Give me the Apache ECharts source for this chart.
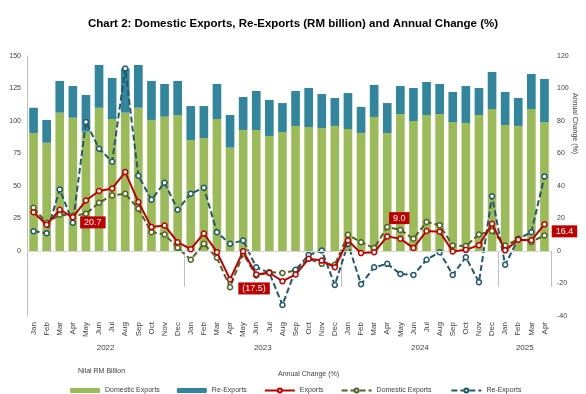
<!DOCTYPE html>
<html>
<head>
<meta charset="utf-8">
<script src="https://cdn.jsdelivr.net/npm/echarts@6/dist/echarts.min.js"></script>
<style>
html,body{margin:0;padding:0;background:#fff;}
#chart{width:586px;height:394px;}
</style>
</head>
<body>
<div id="chart"></div>
<script>
// ---- Data ----
var months = ['Jan','Feb','Mar','Apr','May','Jun','Jul','Aug','Sep','Oct','Nov','Dec',
              'Jan','Feb','Mar','Apr','May','Jun','Jul','Aug','Sep','Oct','Nov','Dec',
              'Jan','Feb','Mar','Apr','May','Jun','Jul','Aug','Sep','Oct','Nov','Dec',
              'Jan','Feb','Mar','Apr'];
var years = ['2022','2023','2024','2025'];
var monthsPerYear = [12, 12, 12, 4];

// RM billion
var domesticExports = [90.8,83.3,106.4,102.6,91.8,110.2,101.5,106.4,110.2,100.8,103.3,104.6,
                       85.4,86.9,101.5,79.5,93.1,93.1,88.5,91.5,96.2,95.4,94.6,96.2,
                       93.8,90.8,103.1,90.8,105.4,100.0,104.6,105.4,99.2,98.5,104.6,109.2,
                       96.9,96.2,109.2,99.2];
var reExports = [19.4,17.5,24.4,24.3,28.2,32.9,31.6,34.0,32.9,30.0,25.2,26.2,
                 26.1,24.6,27.0,25.1,25.4,30.0,27.7,22.3,26.9,30.0,26.2,21.5,
                 27.7,20.0,24.6,23.0,21.5,25.4,25.4,23.1,23.1,28.4,20.8,28.5,
                 25.4,21.5,27.0,33.1];

// Annual change (%)
var exportsChg = [23.9,16.2,25.4,20.7,31.1,36.9,38.5,48.6,30.1,14.7,15.7,5.4,
                  1.1,10.8,-0.7,-17.5,-0.1,-14.4,-13.4,-18.6,-14.5,-4.8,-5.9,-10.0,
                  6.5,-1.3,-0.8,9.0,7.5,1.9,12.3,11.9,-0.3,0.7,3.6,16.8,
                  0.4,6.9,6.6,16.4];
var domesticChg = [26.6,17.4,22.3,21.7,22.9,29.7,34.2,35.2,26.0,11.6,10.2,2.0,
                   -5.4,4.4,-4.2,-22.3,-1.7,-15.1,-13.0,-13.5,-12.0,-4.8,-7.9,-8.5,
                   10.0,5.4,1.8,14.7,13.0,7.5,17.8,15.9,3.4,3.1,10.2,12.3,
                   3.4,7.2,5.6,9.6];
var reExportsChg = [12.2,11.0,37.9,17.4,79.4,63.0,55.0,112.3,46.3,31.6,42.0,25.4,
                    35.3,39.0,11.6,4.4,6.5,-10.0,-13.5,-33.2,-11.6,-2.4,0.3,-20.9,
                    4.4,-20.5,-10.0,-7.9,-14.1,-14.7,-5.4,-0.7,-14.7,-3.8,-19.2,33.7,
                    -8.5,7.5,11.6,45.9];

var labelledIdx = [3, 15, 27, 39];

var leftTicks = [0, 25, 50, 75, 100, 125, 150];
var rightTicks = [-40, -20, 0, 20, 40, 60, 80, 100, 120];

// ---- Build ----
var FONT = "'Liberation Sans', Arial, sans-serif";
var yearCenters = [], yearBounds = [0];
var acc = 0;
monthsPerYear.forEach(function (n) { yearCenters.push(acc + n / 2); acc += n; yearBounds.push(acc); });

var labelOffsets = {3: ['right', [0, 5]], 15: ['right', [1, 9]], 27: ['top', [12, -5]], 39: ['right', [0, 7]]};
function fmtPct(v) { return v < 0 ? '(' + Math.abs(v).toFixed(1) + ')' : v.toFixed(1); }
var exportsData = exportsChg.map(function (v, i) {
  if (labelledIdx.indexOf(i) < 0) return v;
  var lo = labelOffsets[i];
  return {
    value: v,
    label: {
      show: true, position: lo[0], offset: lo[1], distance: 4,
      formatter: function (p) { return fmtPct(p.value); },
      backgroundColor: '#C00000', color: '#fff', fontSize: 9, fontFamily: FONT,
      padding: [2, 4, 1, 4]
    }
  };
});

function lineSeries(name, data, color, dashed, z) {
  return {
    name: name, type: 'line', yAxisIndex: 1, data: data, z: z,
    symbol: 'circle', symbolSize: 5, showSymbol: true,
    lineStyle: { color: color, width: 2, type: dashed ? [6, 3] : 'solid' },
    itemStyle: { color: '#fff', borderColor: color, borderWidth: 1.5 },
    emphasis: { disabled: true }
  };
}

var chart = echarts.init(document.getElementById('chart'), null, { renderer: 'canvas' });
chart.setOption({
  animation: false,
  textStyle: { fontFamily: FONT },
  title: {
    text: 'Chart 2: Domestic Exports, Re-Exports (RM billion) and Annual Change (%)',
    left: 'center', top: 13,
    textStyle: { fontSize: 11.5, fontWeight: 'bold', color: '#000', fontFamily: FONT }
  },
  grid: { left: 27, right: 35, top: 56, bottom: 78, containLabel: false, outerBoundsMode: 'none' },
  legend: {
    top: 382, left: 65, itemGap: 17, itemWidth: 30, itemHeight: 5,
    textStyle: { fontSize: 7, color: '#404040', fontFamily: FONT },
    data: ['Domestic Exports', 'Re-Exports', 'Exports', 'Domestic Exports ', 'Re-Exports ']
  },
  graphic: [
    { type: 'text', left: 78, top: 368, style: { text: 'Nilai RM Billion', fontSize: 7, fill: '#404040', fontFamily: FONT } },
    { type: 'text', left: 278, top: 371, style: { text: 'Annual Change (%)', fontSize: 7, fill: '#404040', fontFamily: FONT } },
    { type: 'text', x: 578, y: 93, rotation: -Math.PI / 2, style: { text: 'Annual Change (%)', fontSize: 7, fill: '#404040', fontFamily: FONT } }
  ],
  xAxis: [
    {
      type: 'category', data: months, position: 'bottom', boundaryGap: true,
      axisLine: { show: false }, axisTick: { show: false },
      axisLabel: { rotate: 90, interval: 0, fontSize: 8, color: '#404040', margin: 6 }
    },
    {
      type: 'value', min: 0, max: months.length, position: 'bottom', gridIndex: 0,
      axisLine: { show: false }, splitLine: { show: false },
      axisTick: { show: true, customValues: yearBounds, length: 36, lineStyle: { color: '#BFBFBF' } },
      axisLabel: {
        customValues: yearCenters, fontSize: 8, color: '#404040', margin: 28,
        formatter: function (v) { return years[yearCenters.indexOf(v)] || ''; }
      }
    }
  ],
  yAxis: [
    {
      type: 'value', min: -50, max: 150, interval: 25,
      name: 'RM billion', nameLocation: 'middle', nameGap: 21,
      nameTextStyle: { fontSize: 7, color: '#404040' },
      axisLine: { show: true, lineStyle: { color: '#BFBFBF' } }, axisTick: { show: false },
      splitLine: { show: false },
      axisLabel: {
        fontSize: 7, color: '#404040', margin: 6,
        formatter: function (v) { return leftTicks.indexOf(v) >= 0 ? String(v) : ''; }
      }
    },
    {
      type: 'value', min: -40, max: 120, interval: 20, position: 'right',
      axisLine: { show: false }, axisTick: { show: false }, splitLine: { show: false },
      axisLabel: {
        fontSize: 7, color: '#404040', margin: 6,
        formatter: function (v) { return rightTicks.indexOf(v) >= 0 ? String(v) : ''; }
      }
    }
  ],
  series: [
    {
      name: 'Domestic Exports', type: 'bar', stack: 'rm', data: domesticExports, barWidth: '66%',
      itemStyle: { color: '#9BBB59' }, z: 2,
      markLine: {
        silent: true, symbol: 'none', label: { show: false },
        lineStyle: { color: '#D9D9D9', width: 1, type: 'solid' },
        data: [{ yAxis: 0 }]
      }
    },
    {
      name: 'Re-Exports', type: 'bar', stack: 'rm', data: reExports, barWidth: '66%',
      itemStyle: { color: '#31859C' }, z: 2
    },
    lineSeries('Exports', exportsData, '#C00000', false, 5),
    lineSeries('Domestic Exports ', domesticChg, '#4F6228', true, 4),
    lineSeries('Re-Exports ', reExportsChg, '#215968', true, 4)
  ]
});
</script>
</body>
</html>
